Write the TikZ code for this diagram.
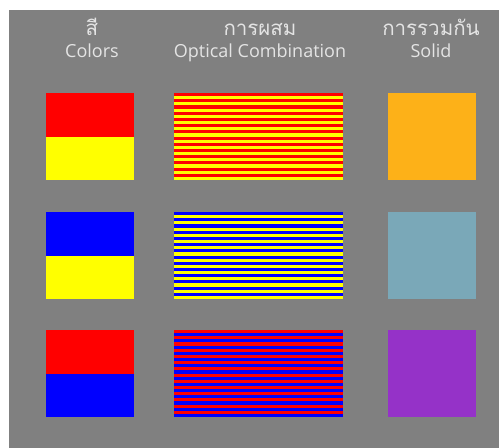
\documentclass[tikz,border=0pt]{standalone}
\usepackage{fontspec}
\setmainfont{Open Sans}
\newfontfamily\thaifont[Script=Thai]{Loma}
\definecolor{bggray}{HTML}{808080}
\definecolor{txtgray}{HTML}{E4E4E4}
\definecolor{cred}{HTML}{FF0000}
\definecolor{cyellow}{HTML}{FFFF00}
\definecolor{cblue}{HTML}{0000FF}
\definecolor{sorange}{HTML}{FDB118}
\definecolor{sblue}{HTML}{7AA8B8}
\definecolor{spurple}{HTML}{9532C8}
\tikzset{
  head/.style={text=txtgray, inner sep=0pt, anchor=base, font=\fontsize{18}{21}\selectfont},
  thaihead/.style={text=txtgray, inner sep=0pt, anchor=base, text depth=0pt, font=\thaifont\fontsize{20.5}{24}\selectfont},
}
\begin{document}
\begin{tikzpicture}[x=1pt,y=-1pt]
\useasboundingbox (0,0) rectangle (499,448);
\fill[white] (0,0) rectangle (499,448);
\fill[bggray] (9,10) rectangle (499,448);
% headings
\node[thaihead] (t1) at (92,35) {สี};
\node[head] (e1) at (92,57) {Colors};
\node[thaihead] (t2) at (260,35) {การผสม};
\node[head] (e2) at (260,57) {Optical Combination};
\node[thaihead] (t3) at (431,35) {การรวมกัน};
\node[head] (e3) at (431,57) {Solid};
% rows
\foreach \top/\ca/\cb/\cs in {93/cred/cyellow/sorange, 212/cblue/cyellow/sblue, 330/cred/cblue/spurple}{
  % colour pair
  \fill[\ca] (46,\top) rectangle (134,\top+43.5);
  \fill[\cb] (46,\top+43.5) rectangle (134,\top+87);
  % stripes
  \foreach \i in {0,...,13}{
    \fill[\ca] (174,\top+\i*6.214) rectangle (343,\top+\i*6.214+3.107);
    \fill[\cb] (174,\top+\i*6.214+3.107) rectangle (343,\top+\i*6.214+6.214);
  }
  % solid
  \fill[\cs] (388,\top) rectangle (476,\top+87);
}
\end{tikzpicture}
\end{document}
